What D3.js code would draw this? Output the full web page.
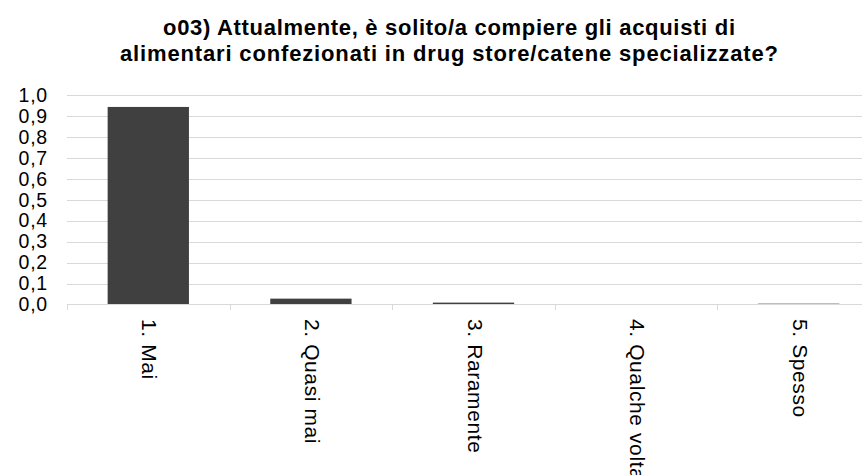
<!DOCTYPE html>
<html>
<head>
<meta charset="utf-8">
<script src="https://cdn.jsdelivr.net/npm/d3@7"></script>
<style>
body { margin: 0; background: #fff; }
text { font-family: "Liberation Sans", Arial, sans-serif; }
</style>
</head>
<body>
<div id="chart"></div>
<script>
var categories = ["1. Mai", "2. Quasi mai", "3. Raramente", "4. Qualche volta", "5. Spesso"];
var values = [0.943, 0.028, 0.009, 0, 0.004];
var yTicks = [0, 0.1, 0.2, 0.3, 0.4, 0.5, 0.6, 0.7, 0.8, 0.9, 1.0];
var titleLines = ["o03) Attualmente, è solito/a compiere gli acquisti di",
                  "alimentari confezionati in drug store/catene specializzate?"];
var titleWidths = [572, 658];

var width = 862, height = 475;

var svg = d3.select('#chart').append("svg")
    .attr("width", width)
    .attr("height", height);

var x = d3.scaleBand()
    .domain(categories)
    .range([67, 880])
    .paddingInner(0.5)
    .paddingOuter(0.25);

var y = d3.scaleLinear()
    .domain([0, 1])
    .range([304.5, 95]);

// title
svg.append("g").selectAll("text")
    .data(titleLines)
    .enter().append("text")
    .attr("x", 449)
    .attr("y", function(d, i) { return 35 + i * 26; })
    .attr("text-anchor", "middle")
    .attr("font-weight", "bold")
    .attr("font-size", 22)
    .attr("fill", "#000")
    .attr("textLength", function(d, i) { return titleWidths[i]; })
    .attr("lengthAdjust", "spacing")
    .text(function(d) { return d; });

// gridlines
svg.append("g").selectAll("line")
    .data(yTicks.slice(1))
    .enter().append("line")
    .attr("x1", 67).attr("x2", width)
    .attr("y1", function(d) { return Math.round(y(d)) + 0.5; })
    .attr("y2", function(d) { return Math.round(y(d)) + 0.5; })
    .attr("stroke", "#d9d9d9")
    .attr("stroke-width", 1);

// y labels
var yAxis = d3.axisLeft(y)
    .tickValues(yTicks)
    .tickSize(0)
    .tickPadding(19)
    .tickFormat(function(d) { return d3.format(".1f")(d).replace(".", ","); });

var gy = svg.append("g")
    .attr("transform", "translate(67,0)")
    .call(yAxis);
gy.select(".domain").remove();
gy.selectAll("text")
    .attr("font-family", "Liberation Sans, Arial, sans-serif")
    .attr("font-size", 19.5)
    .attr("letter-spacing", 0.8)
    .attr("fill", "#000");

// bars
svg.append("g").selectAll("rect")
    .data(values)
    .enter().append("rect")
    .attr("x", function(d, i) { return x(categories[i]); })
    .attr("width", x.bandwidth())
    .attr("y", function(d) { return y(d); })
    .attr("height", function(d) { return y(0) - y(d); })
    .attr("fill", "#404040");

// x axis line + ticks at band boundaries
var step = x.step();
var bounds = d3.range(categories.length + 1).map(function(i) { return 67 + i * step; });
svg.append("line")
    .attr("x1", 67).attr("x2", width)
    .attr("y1", 304.5).attr("y2", 304.5)
    .attr("stroke", "#d9d9d9");
svg.append("g").selectAll("line")
    .data(bounds)
    .enter().append("line")
    .attr("x1", function(d) { return Math.round(d) + 0.5; })
    .attr("x2", function(d) { return Math.round(d) + 0.5; })
    .attr("y1", 304.5).attr("y2", 310)
    .attr("stroke", "#d9d9d9");

// category labels
svg.append("g").selectAll("text")
    .data(categories)
    .enter().append("text")
    .attr("transform", function(d) {
        return "translate(" + (x(d) + x.bandwidth() / 2 + 1.5) + ",319) rotate(90)";
    })
    .attr("dy", "0.35em")
    .attr("font-size", 21)
    .attr("letter-spacing", 0.6)
    .attr("fill", "#000")
    .text(function(d) { return d; });
</script>
</body>
</html>
